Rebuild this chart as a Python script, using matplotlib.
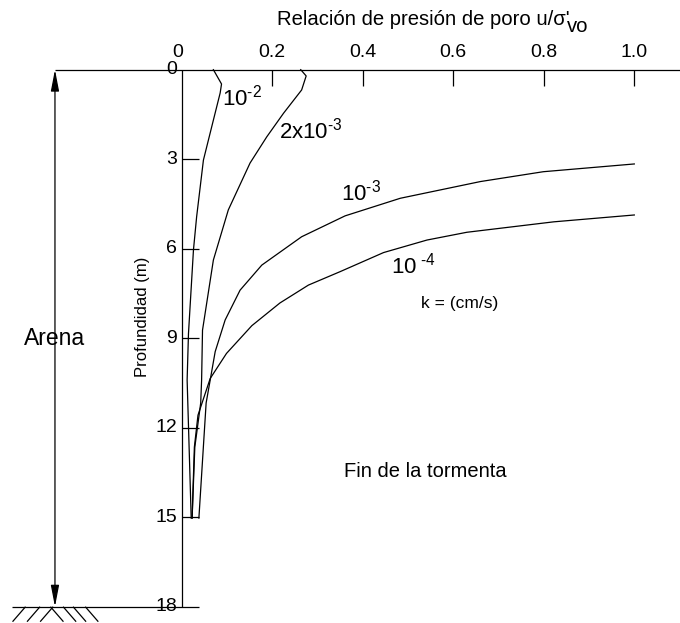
import matplotlib
matplotlib.use("Agg")
import matplotlib.pyplot as plt

plt.rcParams['font.family'] = ['Liberation Sans', 'DejaVu Sans']
plt.rcParams['mathtext.fontset'] = 'custom'
plt.rcParams['mathtext.rm'] = 'Liberation Sans'
plt.rcParams['mathtext.it'] = 'Liberation Sans:italic'

# pore pressure ratio u/sigma'vo vs depth (m) for each permeability k (cm/s)
depth_k1e2 = [0.0, 0.48, 0.78, 1.69, 3.03, 4.93, 6.04, 8.84, 10.40, 15.03]
ratio_k1e2 = [0.070, 0.088, 0.085, 0.070, 0.048, 0.033, 0.026, 0.015, 0.012, 0.021]

depth_k2e3 = [0.0, 0.21, 0.68, 1.46, 2.25, 3.13, 4.70, 6.38, 8.73, 10.40, 11.17, 11.40, 12.65, 15.03]
ratio_k2e3 = [0.263, 0.275, 0.265, 0.225, 0.188, 0.151, 0.103, 0.070, 0.046, 0.044, 0.042, 0.040, 0.029, 0.023]

depth_k1e3 = [3.16, 3.42, 3.75, 4.31, 4.90, 5.60, 6.55, 7.39, 8.39, 9.45, 10.40, 11.17, 15.03]
ratio_k1e3 = [1.0, 0.799, 0.660, 0.483, 0.361, 0.265, 0.177, 0.129, 0.096, 0.074, 0.063, 0.054, 0.038]

depth_k1e4 = [4.87, 5.10, 5.45, 5.71, 6.13, 6.77, 7.22, 7.82, 8.58, 9.51, 10.35, 11.58, 12.65, 15.03]
ratio_k1e4 = [1.0, 0.822, 0.630, 0.542, 0.446, 0.350, 0.280, 0.217, 0.155, 0.099, 0.063, 0.036, 0.028, 0.023]

x_ticks = [0.2, 0.4, 0.6, 0.8, 1.0]
x_tick_labels = ['0.2', '0.4', '0.6', '0.8', '1.0']
y_ticks = [0, 3, 6, 9, 12, 15, 18]
depth_bottom = 15   # base of the profile
depth_ground = 18

fig = plt.figure(figsize=(6.8, 6.23), dpi=100)
ax = fig.add_axes([0.2672, 0.02616, 0.6656, 0.8620])
ax.set_xlim(0, 1)
ax.set_ylim(18, 0)
ax.axis('off')

lw = 0.9
kw = dict(color='black', lw=lw, clip_on=False, solid_capstyle='butt')

# axes drawn by hand
ax.plot([-0.280, 1.101], [0, 0], **kw)
ax.plot([0, 0], [0, depth_ground], **kw)
ax.plot([-0.375, 0.038], [depth_ground, depth_ground], **kw)
for t in x_ticks:
    ax.plot([t, t], [0, 0.55], **kw)
for t in y_ticks[1:5]:
    ax.plot([0, 0.038], [t, t], **kw)
ax.plot([0, 0.038], [depth_bottom, depth_bottom], **kw)

ax.text(-0.008, -0.56, '0', ha='center', va='center', fontsize=14)
for t, s in zip(x_ticks, x_tick_labels):
    ax.text(t, -0.56, s, ha='center', va='center', fontsize=14)
for t in y_ticks:
    ax.text(-0.0104, t, str(t), ha='right', va='center', fontsize=14)

# title: main part, then the "vo" subscript placed right after it
title = ax.text(0.2106, -1.67, "Relación de presión de poro u/σ'",
                ha='left', va='center', fontsize=14.6)
fig.canvas.draw()
bb = title.get_window_extent()
x_end = ax.transData.inverted().transform((bb.x1, bb.y0))[0]
ax.text(x_end - 0.006, -1.45, 'vo', ha='left', va='center', fontsize=14.6)

ax.text(-0.0855, 8.29, 'Profundidad (m)', rotation=90, ha='center', va='center',
        fontsize=12)

# curves
for r, d in [(ratio_k1e2, depth_k1e2), (ratio_k2e3, depth_k2e3),
             (ratio_k1e3, depth_k1e3), (ratio_k1e4, depth_k1e4)]:
    ax.plot(r, d, color='black', lw=lw, clip_on=False)

ax.text(0.134, 0.95, r'$\mathregular{10^{\text{-}2}}$', ha='center', va='center', fontsize=16)
ax.text(0.285, 2.04, r'$\mathregular{2x10^{\text{-}3}}$', ha='center', va='center', fontsize=16)
ax.text(0.397, 4.13, r'$\mathregular{10^{\text{-}3}}$', ha='center', va='center', fontsize=16)
ax.text(0.511, 6.58, r'$\mathregular{10^{\ \text{-}4}}$', ha='center', va='center', fontsize=16)
ax.text(0.613, 7.85, 'k = (cm/s)', ha='center', va='center', fontsize=12.5)
ax.text(0.538, 13.48, 'Fin de la tormenta', ha='center', va='center', fontsize=14.5)

# sand layer dimension arrow
ax.annotate('', xy=(-0.280, 0), xytext=(-0.280, depth_ground),
            arrowprops=dict(arrowstyle='<|-|>,head_length=1.3,head_width=0.25',
                            color='black', lw=lw, shrinkA=0, shrinkB=0,
                            mutation_scale=10),
            annotation_clip=False)
ax.text(-0.280, 9.0, 'Arena', ha='center', va='center', fontsize=16.5)

# ground symbol under the arrow
dx, dy = 13 / 452.6, 15 / 29.83
for x0 in [-0.345, -0.313, -0.284]:
    ax.plot([x0, x0 - dx], [depth_ground, depth_ground + dy], **kw)
for x0 in [-0.290, -0.262, -0.240, -0.213]:
    ax.plot([x0, x0 + dx], [depth_ground, depth_ground + dy], **kw)

fig.savefig('out.png', dpi=100)
